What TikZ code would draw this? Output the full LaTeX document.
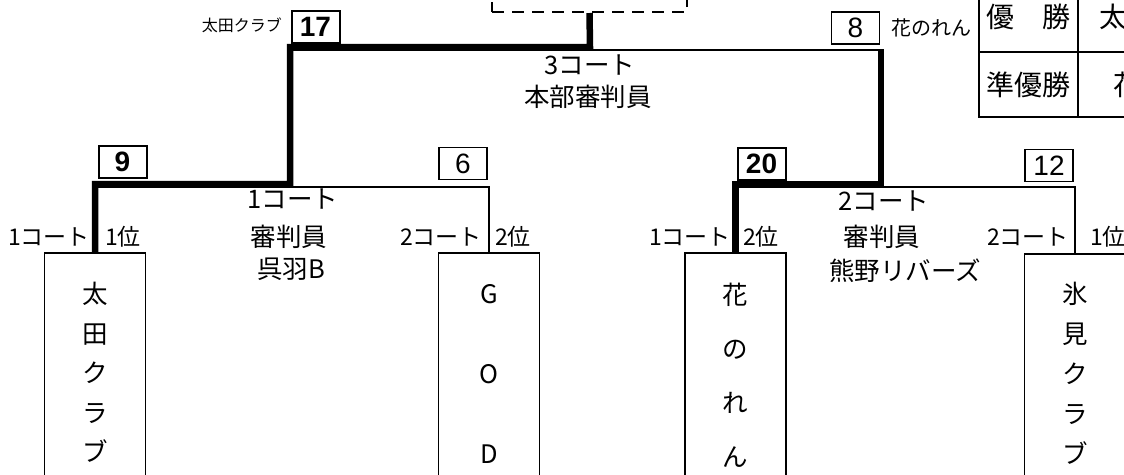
\documentclass[tikz,border=0pt]{standalone}
\usepackage{fontspec}
\setmainfont{Noto Sans CJK JP}
\newfontfamily\numfont{Liberation Sans}
\usetikzlibrary{positioning}

\begin{document}
\begin{tikzpicture}[
    x=1pt, y=-1pt,
    team/.style={draw, line width=1.6pt, minimum width=101pt, minimum height=260pt, anchor=north, inner sep=0pt},
    tname/.style={anchor=north, inner sep=0pt, align=center},
    score/.style={draw, line width=1.4pt, minimum width=48pt, minimum height=32pt, inner sep=0pt, font=\numfont\fontsize{28}{28}\selectfont},
    winscore/.style={score, line width=2pt, font=\numfont\bfseries\fontsize{28}{28}\selectfont},
    sidelabel/.style={inner sep=0pt, font=\fontsize{23}{23}\selectfont},
    court/.style={inner sep=0pt, font=\fontsize{25.5}{25.5}\selectfont},
    cell/.style={draw, line width=2pt, inner sep=0pt, font=\fontsize{28}{28}\selectfont},
    bracket/.style={line width=2pt},
    win/.style={line width=6.5pt}
]
\path[use as bounding box] (0,0) rectangle (1124,474);
\clip (0,0) rectangle (1124,474);

% Team boxes
\node[team] (t1) at (95,252) {};
\node[team] (t2) at (489,252) {};
\node[team] (t3) at (735.5,252) {};
\node[team] (t4) at (1075,253) {};

% Team names
\node[tname, font=\fontsize{25.5}{39.5}\selectfont] (n1) at ([yshift=-30pt]t1.north) {太\\田\\ク\\ラ\\ブ};
\node[tname, font=\fontsize{25.5}{80}\selectfont] (n2) at ([yshift=-32pt]t2.north) {G\\O\\D};
\node[tname, font=\fontsize{25.5}{54}\selectfont] (n3) at ([yshift=-31pt]t3.north) {花\\の\\れ\\ん};
\node[tname, font=\fontsize{25.5}{40}\selectfont] (n4) at ([yshift=-29pt]t4.north) {氷\\見\\ク\\ラ\\ブ};

% Score boxes
\node[winscore] (s9) at (122.5,162) {9};
\node[score] (s6) at (463,163.5) {6};
\node[winscore] (s20) at (761.5,163.5) {20};
\node[score] (s12) at (1049,165.5) {12};
\node[winscore] (s17) at (315.5,27) {17};
\node[score] (s8) at (855.5,28) {8};
\node[font=\fontsize{16}{16}\selectfont, inner sep=0pt, anchor=east] (w17) at (282,25) {太田クラブ};
\node[font=\fontsize{20}{20}\selectfont, inner sep=0pt, anchor=west] (w8) at (891,28) {花のれん};

% Final box
\node[draw, dashed, dash pattern=on 12pt off 8pt, line width=2pt, minimum width=195pt, minimum height=40pt] (final) at (589.5,-8) {};

% Match points
\coordinate (m1) at (290,187);
\coordinate (m2) at (881,187);
\coordinate (m3) at (590,50);
\coordinate (w1) at (290,184);
\coordinate (w0) at (290,47);
\coordinate (w3) at (590,47);
\coordinate (w2) at (881,184);
\coordinate (w4) at (881,49);

% Brackets
\draw[bracket] (t1.north) |- (m1) -| (t2.north);
\draw[bracket] (t3.north) |- (m2) -| (t4.north);
\draw[bracket] (m1) |- (m3) -| (m2);

% Winning path
\draw[win] (t1.north) |- (w1) -- (w0) -- (w3) -- (final.south);
\draw[win] (w4) -- (w2) -| (t3.north);

% Court labels
\node[sidelabel, anchor=east] (a1) at (90,237) {1コート};
\node[sidelabel, anchor=west] (b1) at (105,237) {1位};
\node[sidelabel, anchor=east] (a2) at (482,237) {2コート};
\node[sidelabel, anchor=west] (b2) at (495,237) {2位};
\node[sidelabel, anchor=east] (a3) at (731,237) {1コート};
\node[sidelabel, anchor=west] (b3) at (743,237) {2位};
\node[sidelabel, anchor=east] (a4) at (1069,237) {2コート};
\node[sidelabel, anchor=west] (b4) at (1090,237) {1位};

% Referees
\node[court] (k1) at (293,199) {1コート};
\node[court] (j1) at (289,237) {審判員};
\node[court] (u1) at (291,269) {呉羽B};
\node[court] (k2) at (884,201) {2コート};
\node[court] (j2) at (882,237) {審判員};
\node[court] (u2) at (905,271) {熊野リバーズ};
\node[court] (k3) at (590,65) {3コート};
\node[court] (j3) at (588,97) {本部審判員};

% Result table
\node[cell, minimum width=99pt, minimum height=71pt] (h1) at (1028.5,16.5) {優　勝};
\node[cell, minimum width=99pt, minimum height=65pt] (h2) at (1028.5,84.5) {準優勝};
\node[cell, minimum width=182pt, minimum height=71pt] (v1) at (1169,16.5) {太田クラブ};
\node[cell, minimum width=182pt, minimum height=65pt] (v2) at (1169,84.5) {花のれん};

\end{tikzpicture}
\end{document}
